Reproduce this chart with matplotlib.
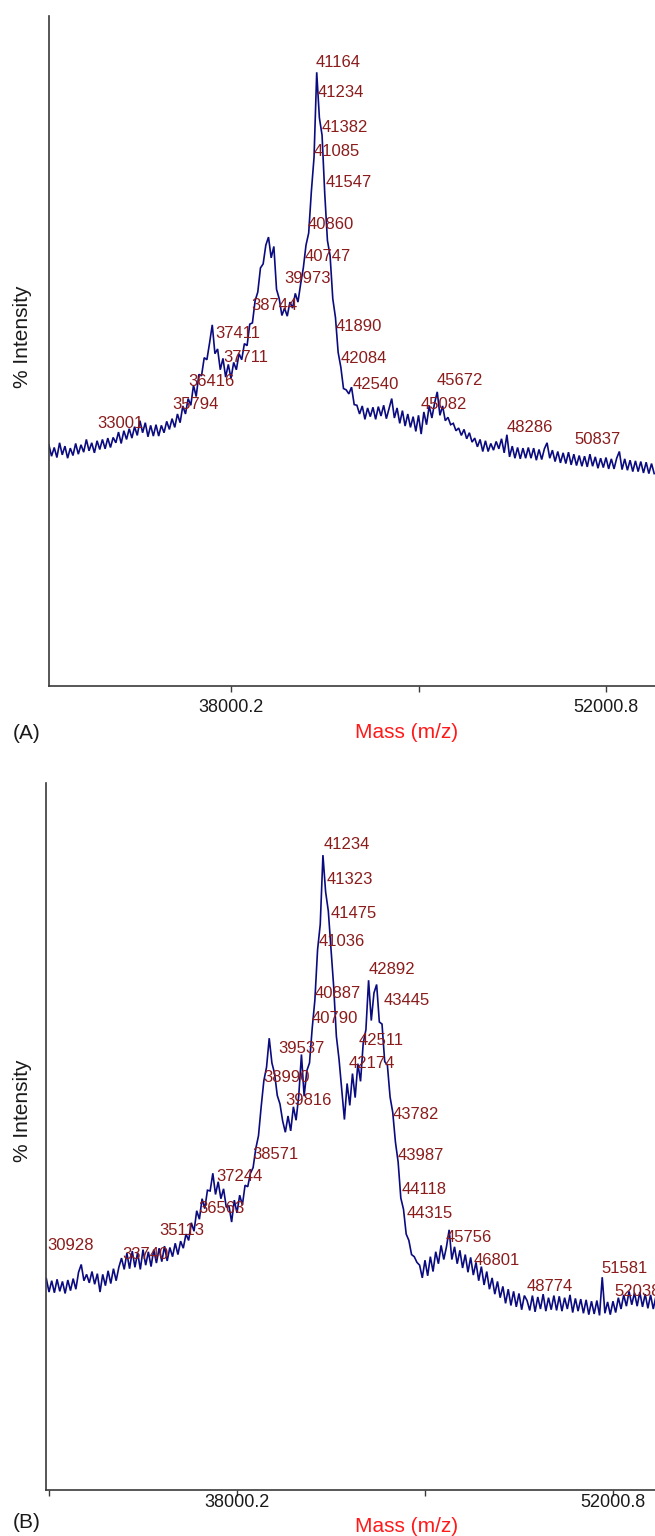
import numpy as np
import matplotlib
matplotlib.use('Agg')
import matplotlib.pyplot as plt

plt.rcParams['font.family'] = ['Liberation Sans', 'DejaVu Sans']

# ---------------- data ----------------
mass_step = 100
mass_start_A = 31200
intensity_A = [
    36.0, 34.3, 35.6, 34.1, 36.3, 34.5, 35.8, 34.0, 35.5, 34.4,
    36.2, 34.6, 36.0, 34.9, 36.8, 35.1, 36.3, 34.8, 36.6, 35.3,
    36.8, 35.4, 37.0, 35.6, 37.1, 36.3, 37.9, 36.2, 38.1, 36.8,
    38.4, 37.0, 38.7, 37.4, 39.6, 37.8, 39.3, 37.2, 38.9, 37.3,
    39.0, 37.3, 38.9, 37.8, 39.5, 38.3, 39.9, 38.6, 40.6, 39.3,
    41.8, 40.6, 42.9, 41.9, 44.9, 43.2, 46.5, 46.3, 49.0, 48.7,
    51.2, 53.9, 49.6, 50.3, 47.2, 48.9, 46.1, 48.0, 45.9, 48.3,
    47.2, 49.6, 48.7, 51.1, 50.8, 54.0, 54.2, 57.5, 58.8, 62.4,
    63.0, 65.8, 67.0, 63.9, 65.6, 59.2, 57.8, 55.3, 56.4, 55.2,
    57.3, 56.4, 58.6, 57.3, 60.0, 62.4, 65.8, 67.6, 73.8, 78.9,
    91.6, 84.8, 82.2, 73.5, 66.5, 64.2, 57.8, 55.0, 49.8, 47.6,
    44.4, 44.2, 43.6, 44.6, 42.0, 41.9, 40.6, 41.8, 39.8, 41.5,
    40.2, 41.6, 39.8, 41.7, 40.3, 41.9, 39.9, 41.4, 42.9, 40.0,
    41.5, 39.2, 41.1, 38.8, 40.6, 38.6, 40.2, 38.0, 40.4, 37.6,
    40.9, 39.0, 41.8, 40.0, 42.2, 43.9, 40.4, 41.8, 39.6, 40.1,
    39.0, 39.2, 38.1, 38.5, 37.4, 38.3, 36.9, 37.8, 36.4, 37.0,
    35.7, 36.8, 35.0, 36.6, 35.0, 36.2, 35.2, 36.5, 35.4, 36.9,
    34.8, 37.5, 34.2, 35.8, 34.0, 35.6, 33.9, 35.5, 34.0, 35.6,
    34.0, 35.5, 33.7, 35.3, 33.8, 35.4, 36.3, 34.0, 35.2, 33.5,
    35.0, 33.3, 34.8, 33.2, 34.9, 33.0, 34.6, 32.9, 34.4, 32.8,
    34.3, 32.7, 34.6, 32.8, 34.2, 32.5, 34.0, 32.6, 34.1, 32.4,
    33.9, 32.4, 34.0, 35.0, 32.3, 33.9, 32.2, 33.7, 32.0, 33.6,
    32.0, 33.5, 31.8, 33.4, 31.7, 33.2, 31.7,
]

mass_start_B = 30900
intensity_B = [
    29.9, 28.0, 29.6, 27.9, 29.8, 28.1, 29.5, 27.8, 29.7, 28.2,
    29.9, 28.4, 30.8, 31.9, 29.6, 30.5, 29.3, 30.9, 29.1, 30.6,
    28.0, 30.5, 28.9, 31.0, 29.2, 31.3, 29.6, 31.5, 32.8, 31.2,
    33.5, 31.3, 33.8, 31.5, 33.6, 31.2, 34.0, 31.8, 33.7, 31.6,
    34.0, 32.1, 34.2, 32.3, 34.5, 32.4, 34.3, 33.0, 34.9, 33.3,
    35.2, 34.2, 36.2, 35.3, 37.8, 36.6, 39.5, 38.3, 41.2, 39.8,
    42.4, 42.3, 44.8, 41.8, 43.6, 41.2, 42.6, 40.0, 40.2, 37.9,
    41.0, 39.2, 41.7, 40.3, 43.1, 42.9, 44.8, 45.6, 48.3, 50.1,
    54.2, 57.9, 59.8, 63.9, 60.4, 58.9, 55.8, 54.6, 52.2, 50.6,
    52.9, 50.8, 54.2, 52.3, 55.8, 61.6, 55.7, 59.3, 60.4, 65.3,
    69.3, 76.4, 80.0, 89.8, 84.6, 81.9, 76.6, 71.2, 64.2, 60.9,
    56.6, 52.4, 57.5, 54.4, 58.9, 55.5, 60.3, 57.8, 63.2, 65.1,
    72.1, 66.4, 70.3, 71.5, 66.2, 65.9, 60.6, 60.1, 55.6, 53.4,
    49.2, 46.4, 41.3, 39.7, 36.2, 35.3, 33.3, 33.0, 32.2, 31.8,
    30.0, 32.5, 30.3, 33.0, 30.9, 33.7, 32.0, 34.6, 32.6, 34.4,
    36.8, 32.6, 34.4, 32.0, 33.9, 31.4, 33.3, 30.8, 32.9, 30.4,
    32.2, 29.6, 31.6, 29.0, 30.9, 28.4, 30.0, 27.7, 29.5, 27.2,
    28.8, 26.4, 28.4, 26.1, 28.1, 25.9, 27.8, 25.5, 27.5, 26.8,
    25.4, 27.5, 25.2, 27.3, 25.6, 27.7, 25.3, 27.2, 25.5, 27.5,
    25.4, 27.4, 25.3, 27.2, 25.6, 27.6, 25.1, 27.1, 25.3, 27.0,
    25.0, 26.9, 24.8, 26.7, 24.9, 26.8, 24.7, 30.1, 25.0, 26.6,
    24.8, 26.7, 25.1, 27.2, 25.6, 27.6, 26.0, 28.1, 26.2, 27.9,
    26.0, 28.0, 25.9, 27.7, 25.7, 27.6, 25.6, 27.4,
]

peak_labels_A = [41164, 41234, 41382, 41085, 41547, 40860, 40747, 39973, 38744,
                 37411, 37711, 36416, 35794, 33001, 41890, 42084, 42540, 45672,
                 45082, 48286, 50837]
peak_label_y_A = [93.3, 88.8, 83.6, 80.0, 75.4, 69.1, 64.3, 61.0, 57.0,
                  52.8, 49.3, 45.7, 42.2, 39.4, 53.9, 49.1, 45.2, 45.8,
                  42.2, 38.8, 37.0]

peak_labels_B = [41234, 41323, 41475, 41036, 42892, 40887, 43445, 40790, 42511,
                 39537, 42174, 38990, 39816, 43782, 38571, 43987, 44118, 44315,
                 45756, 46801, 48774, 51581, 52038, 37244, 36563, 35113, 33740,
                 30928]
peak_label_y_B = [91.5, 86.6, 81.8, 77.8, 73.8, 70.4, 69.4, 66.9, 63.8,
                  62.7, 60.5, 58.6, 55.3, 53.3, 47.7, 47.5, 42.7, 39.3,
                  35.9, 32.7, 29.0, 31.5, 28.3, 44.6, 40.0, 36.9, 33.5,
                  34.8]

tick_values_A = [38000.2, 45000.5, 52000.8]
tick_text_A = ['38000.2', '', '52000.8']
tick_values_B = [30999.9, 38000.2, 45000.5, 52000.8]
tick_text_B = ['', '38000.2', '', '52000.8']

xlim_A = (31205, 53830)
xlim_B = (30888, 53565)

# ---------------- style ----------------
LINE = '#0b0b80'
LABEL = '#8a1c1c'
AXC = '#3a3a3a'
W, H = 655, 1536

fig = plt.figure(figsize=(W / 100, H / 100), dpi=100)
axA = fig.add_axes([49 / W, (H - 686) / H, (655 - 49) / W, (686 - 16) / H])
axB = fig.add_axes([46 / W, (H - 1490) / H, (655 - 46) / W, (1490 - 783) / H])


def draw(ax, start, inten, labels, label_y, ticks, ticktext, xlim, pad,
         xl_coords, yl_coords):
    mass = start + mass_step * np.arange(len(inten))
    ax.plot(mass, inten, color=LINE, lw=1.2, solid_joinstyle='miter')
    ax.set_xlim(*xlim)
    ax.set_ylim(0, 100)
    for s in ('top', 'right'):
        ax.spines[s].set_visible(False)
    for s in ('left', 'bottom'):
        ax.spines[s].set_color(AXC)
        ax.spines[s].set_linewidth(1.2)
    ax.set_yticks([])
    ax.set_xticks(ticks)
    ax.set_xticklabels(ticktext)
    ax.tick_params(axis='x', direction='out', length=4, width=1.0, color=AXC,
                   labelsize=13, labelcolor='#1a1a1a', pad=pad)
    for m, y in zip(labels, label_y):
        ax.text(m, y, str(m), color=LABEL, fontsize=12, ha='left',
                va='center_baseline', clip_on=False)
    ax.set_xlabel('Mass (m/z)', color='#ff1a1a', fontsize=15, va='center')
    ax.xaxis.set_label_coords(*xl_coords)
    ax.set_ylabel('% Intensity', color='#1a1a1a', fontsize=15, va='center')
    ax.yaxis.set_label_coords(*yl_coords)


draw(axA, mass_start_A, intensity_A, peak_labels_A, peak_label_y_A,
     tick_values_A, tick_text_A, xlim_A, 5.0,
     ((407 - 49) / 606, (686 - 733) / 670), ((23 - 49) / 606, (686 - 337) / 670))
draw(axB, mass_start_B, intensity_B, peak_labels_B, peak_label_y_B,
     tick_values_B, tick_text_B, xlim_B, -1.0,
     ((407 - 46) / 609, (1490 - 1527) / 707), ((23 - 46) / 609, (1490 - 1111) / 707))

fig.text(12.5 / W, 1 - 733 / H, '(A)', fontsize=15, ha='left', va='center', color='#1a1a1a')
fig.text(12.5 / W, 1 - 1522 / H, '(B)', fontsize=15, ha='left', va='center', color='#1a1a1a')

fig.savefig('out.png', dpi=100)
